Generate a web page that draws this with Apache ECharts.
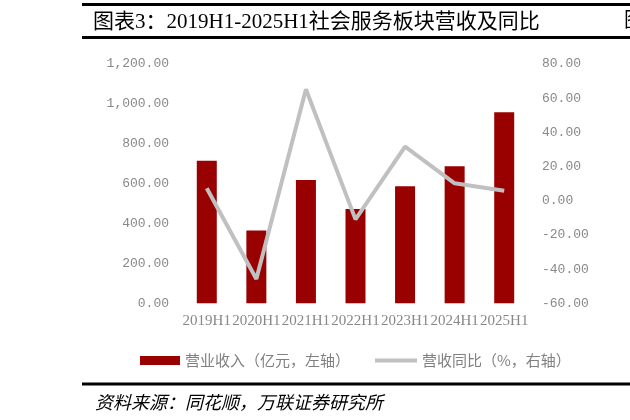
<!DOCTYPE html>
<html>
<head>
<meta charset="utf-8">
<script src="https://cdn.jsdelivr.net/npm/echarts@6/dist/echarts.min.js"></script>
<style>html,body{margin:0;padding:0;background:#fff;}#c{width:630px;height:420px;}</style>
</head>
<body>
<div id="c"></div>
<script>
const categories = ['2019H1','2020H1','2021H1','2022H1','2023H1','2024H1','2025H1'];
const revenue = [715, 365, 618, 473, 587, 687, 958];
const yoy = [7.3, -45.8, 65.2, -10.9, 31.6, 10.2, 5.9];
const barName = '营业收入（亿元，左轴）';
const lineName = '营收同比（%，右轴）';
const titleText = '图表3：2019H1-2025H1社会服务板块营收及同比';
const sourceText = '资料来源：同花顺，万联证券研究所';

const chart = echarts.init(document.getElementById('c'));
const grayText = '#888888';
const monoFont = '"Liberation Mono", "DejaVu Sans Mono", monospace';
const cjkFont = '"Liberation Serif", "Noto Sans CJK SC", serif';

function fmtLeft(v) {
  return Number(v).toLocaleString('en-US', {minimumFractionDigits: 2, maximumFractionDigits: 2});
}
function fmtRight(v) {
  return Number(v).toFixed(2);
}

chart.setOption({
  animation: false,
  backgroundColor: '#ffffff',
  grid: {left: 182, right: 101, top: 64, bottom: 116.7},
  legend: [
    {
      data: [barName], left: 135, top: 348, icon: 'rect',
      itemWidth: 40, itemHeight: 9, itemGap: 4,
      textStyle: {color: '#808080', fontSize: 15, fontFamily: '"Noto Sans CJK SC", sans-serif'}
    },
    {
      data: [lineName], left: 370, top: 348, icon: 'rect',
      itemWidth: 42, itemHeight: 4, itemGap: 4,
      itemStyle: {color: '#c0c0c0'},
      textStyle: {color: '#808080', fontSize: 15, fontFamily: '"Noto Sans CJK SC", sans-serif'}
    }
  ],
  xAxis: {
    type: 'category', data: categories,
    axisLine: {show: false}, axisTick: {show: false},
    axisLabel: {color: grayText, fontSize: 15, fontFamily: '"Liberation Serif", serif', margin: 10, interval: 0}
  },
  yAxis: [
    {
      type: 'value', min: 0, max: 1200, interval: 200,
      splitLine: {show: false}, axisLine: {show: false}, axisTick: {show: false},
      axisLabel: {color: grayText, fontSize: 13, fontFamily: monoFont, margin: 13, formatter: fmtLeft}
    },
    {
      type: 'value', min: -60, max: 80, interval: 20,
      splitLine: {show: false}, axisLine: {show: false}, axisTick: {show: false},
      axisLabel: {color: grayText, fontSize: 13, fontFamily: monoFont, margin: 13, formatter: fmtRight}
    }
  ],
  series: [
    {
      name: barName, type: 'bar', data: revenue, yAxisIndex: 0,
      barWidth: 20, itemStyle: {color: '#990000'}
    },
    {
      name: lineName, type: 'line', data: yoy, yAxisIndex: 1,
      symbol: 'none', showSymbol: false, z: 5,
      lineStyle: {color: '#c0c0c0', width: 4},
      itemStyle: {color: '#c0c0c0'}
    }
  ],
  graphic: [
    {type: 'rect', shape: {x: 82, y: 3, width: 548, height: 3}, style: {fill: '#000'}},
    {type: 'rect', shape: {x: 82, y: 36, width: 548, height: 3}, style: {fill: '#000'}},
    {type: 'rect', shape: {x: 82, y: 382.5, width: 548, height: 3}, style: {fill: '#000'}},
    {type: 'text', x: 93, y: 22, style: {text: titleText, fill: '#000', font: '21px ' + cjkFont, textVerticalAlign: 'middle', textBaseline: 'middle'}},
    {type: 'text', x: 624, y: 22, style: {text: '图', fill: '#000', font: '20px ' + cjkFont, textVerticalAlign: 'middle', textBaseline: 'middle'}},
    {type: 'text', x: 95, y: 402, style: {text: sourceText, fill: '#000', font: 'italic 18px "Noto Sans CJK SC", sans-serif', textVerticalAlign: 'middle', textBaseline: 'middle'}}
  ]
});
</script>
</body>
</html>
